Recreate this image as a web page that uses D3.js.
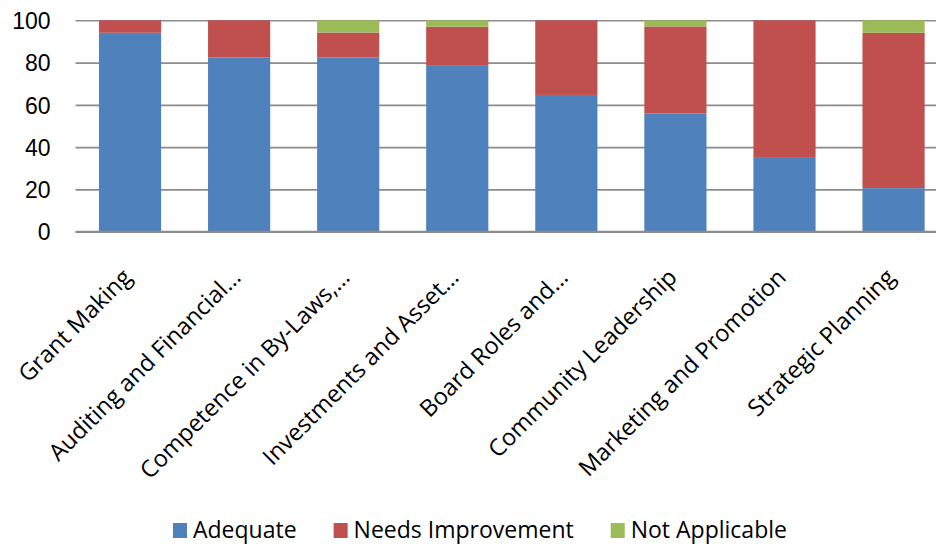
<!DOCTYPE html>
<html>
<head>
<meta charset="utf-8">
<script src="https://cdn.jsdelivr.net/npm/d3@7"></script>
<style>
  body { margin: 0; background: #fff; }
  svg { display: block; font-family: "Open Sans", Lato, sans-serif; }
</style>
</head>
<body>
<div id="chart"></div>
<script>
// chart data (percent of respondents)
let categories = ["Grant Making", "Auditing and Financial…", "Competence in By-Laws,…",
    "Investments and Asset…", "Board Roles and…", "Community Leadership",
    "Marketing and Promotion", "Strategic Planning"];
let adequate = [94.1, 82.4, 82.4, 78.8, 64.7, 55.9, 35.3, 20.6];
let needsImprovement = [5.9, 17.6, 11.8, 18.2, 35.3, 41.2, 64.7, 73.5];
let notApplicable = [0, 0, 5.8, 3.0, 0, 2.9, 0, 5.9];
let seriesNames = ["Adequate", "Needs Improvement", "Not Applicable"];
let yTicks = [0, 20, 40, 60, 80, 100];

let colors = ["#4F81BD", "#C0504D", "#9BBB59"];

// size of the svg
let svgWidth = 936;
let svgHeight = 544;

// plot area (runs off the right edge like the original)
let margin = { top: 20.3, left: 75.5 };
let width = 872.6;
let height = 211.4;

let svg = d3.select("#chart")
    .append("svg")
    .attr("width", svgWidth)
    .attr("height", svgHeight);

let plot = svg.append("g")
    .attr("transform", `translate(${margin.left}, ${margin.top})`);

// build rows for the stack
let rows = categories.map((c, i) => ({
    category: c,
    "Adequate": adequate[i],
    "Needs Improvement": needsImprovement[i],
    "Not Applicable": notApplicable[i]
}));
let stacked = d3.stack().keys(seriesNames)(rows);

// scales
let x = d3.scaleBand()
    .domain(categories)
    .range([0, width])
    .paddingInner(0.43)
    .paddingOuter(0.215);

let y = d3.scaleLinear()
    .domain([0, 100])
    .range([height, 0]);

// gridlines + y labels
let yAxis = d3.axisLeft(y)
    .tickValues(yTicks)
    .tickSize(-(svgWidth - margin.left))
    .tickPadding(25);

let yG = plot.append("g").call(yAxis);
yG.select(".domain").remove();
yG.selectAll(".tick line")
    .attr("stroke", "#8c8c8c")
    .attr("stroke-width", 1.6);
yG.selectAll(".tick text")
    .attr("fill", "#000")
    .style("font-size", "23px")
    .attr("dy", "0.36em");

// bars
plot.selectAll(".series")
    .data(stacked)
    .enter()
    .append("g")
    .attr("class", "series")
    .attr("fill", (d, i) => colors[i])
    .selectAll("rect")
    .data(d => d)
    .enter()
    .append("rect")
    .attr("x", d => x(d.data.category))
    .attr("y", d => y(d[1]))
    .attr("width", x.bandwidth())
    .attr("height", d => y(d[0]) - y(d[1]));

// category axis line
plot.append("line")
    .attr("x1", 0)
    .attr("x2", svgWidth)
    .attr("y1", height)
    .attr("y2", height)
    .attr("stroke", "#8c8c8c")
    .attr("stroke-width", 2);

// rotated category labels
plot.selectAll(".cat")
    .data(categories)
    .enter()
    .append("text")
    .attr("class", "cat")
    .attr("text-anchor", "end")
    .attr("transform", d => `translate(${x(d) + x.bandwidth() / 2 + 3}, ${height + 47}) rotate(-45)`)
    .style("font-size", "23.5px")
    .attr("fill", "#000")
    .text(d => d);

// legend
let legend = svg.append("g");
let lx = 173;
seriesNames.forEach((name, i) => {
    legend.append("rect")
        .attr("x", lx)
        .attr("y", 523)
        .attr("width", 14)
        .attr("height", 15)
        .attr("fill", colors[i]);
    let t = legend.append("text")
        .attr("x", lx + 20)
        .attr("y", 538)
        .style("font-size", "23px")
        .attr("fill", "#000")
        .text(name);
    lx += 20 + t.node().getComputedTextLength() + 37;
});
</script>
</body>
</html>
